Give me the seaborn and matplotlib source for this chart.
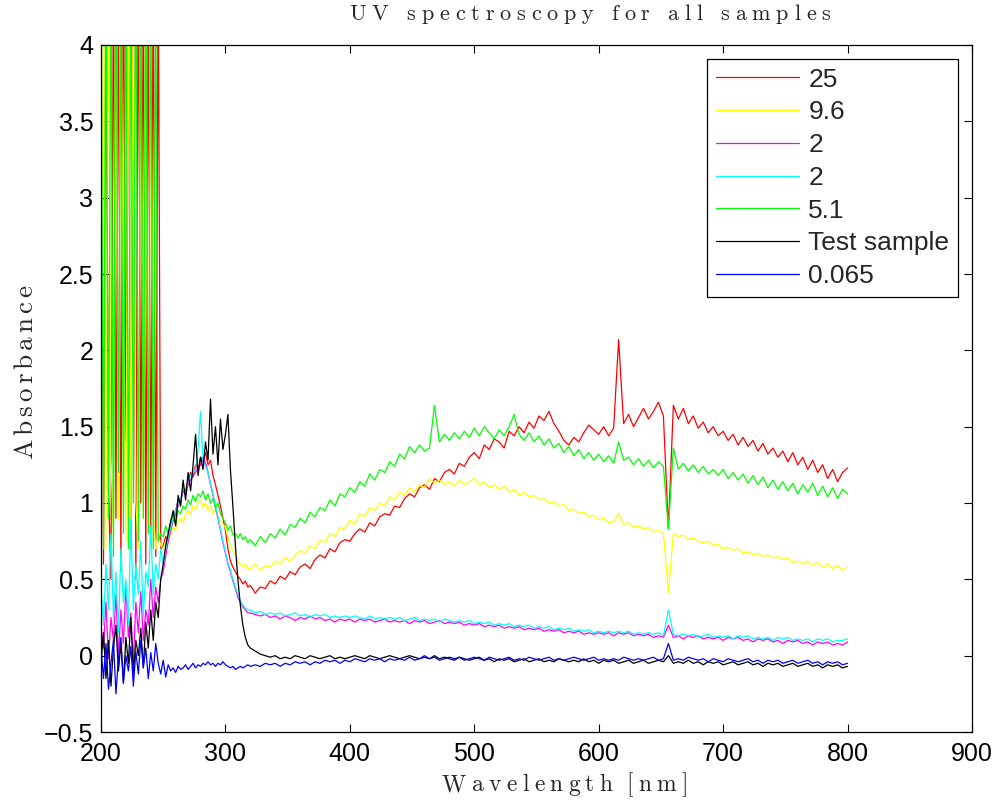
import matplotlib
matplotlib.use("Agg")
import matplotlib.pyplot as plt
import pandas as pd
import seaborn as sns
from matplotlib.ticker import FuncFormatter, MultipleLocator

# ---------------- data ----------------
wl_uv = list(range(200, 320, 2))    # 200..318 nm (60 points)
wl_vis = list(range(320, 801, 4))   # 320..800 nm (121 points)

labels = ["25", "9.6", "2", "2", "5.1", "Test sample", "0.065"]
colors = ["#ff0000", "#ffff00", "#ff00ff", "#00ffff", "#00ff00", "#000000", "#0000ff"]

red_uv = [4.5, 0.6, 4.7, 1.1, 0.5, 4.6, 0.9, 4.4, 0.55, 4.8,
          1.4, 4.5, 0.7, 4.6, 0.5, 4.7, 1.0, 4.5, 0.6, 4.4,
          0.8, 4.6, 0.65, 4.5, 0.7, 0.72, 0.78, 0.75, 0.86, 0.92,
          0.95, 1.02, 1.0, 1.1, 1.08, 1.15, 1.2, 1.17, 1.25, 1.22,
          1.3, 1.27, 1.33, 1.25, 1.28, 1.18, 1.12, 1.05, 0.98, 0.9,
          0.82, 0.7, 0.62, 0.58, 0.55, 0.52, 0.5, 0.47, 0.49, 0.45]
red_vis = [0.46, 0.41, 0.45, 0.44, 0.49, 0.47, 0.52, 0.5, 0.55, 0.53,
           0.58, 0.6, 0.57, 0.63, 0.66, 0.64, 0.7, 0.68, 0.74, 0.76,
           0.75, 0.8, 0.83, 0.81, 0.87, 0.85, 0.91, 0.93, 0.92, 0.98,
           0.97, 1.03, 1.06, 1.04, 1.1, 1.12, 1.09, 1.16, 1.14, 1.2,
           1.22, 1.19, 1.26, 1.24, 1.3, 1.33, 1.29, 1.38, 1.35, 1.42,
           1.4, 1.36, 1.47, 1.44, 1.5, 1.46, 1.53, 1.49, 1.57, 1.54,
           1.6, 1.52, 1.47, 1.41, 1.38, 1.43, 1.4, 1.46, 1.51, 1.48,
           1.45, 1.5, 1.44, 1.49, 2.07, 1.52, 1.58, 1.5, 1.56, 1.62,
           1.55, 1.6, 1.66, 1.57, 0.83, 1.64, 1.55, 1.62, 1.52, 1.57,
           1.49, 1.53, 1.46, 1.5, 1.44, 1.47, 1.41, 1.45, 1.38, 1.43,
           1.37, 1.41, 1.34, 1.39, 1.32, 1.36, 1.3, 1.34, 1.27, 1.33,
           1.25, 1.3, 1.22, 1.28, 1.2, 1.25, 1.16, 1.22, 1.14, 1.2,
           1.23]

yellow_uv = [0.9, 4.5, 0.7, 4.6, 1.3, 0.8, 4.7, 0.9, 4.5, 2.1,
             0.75, 4.6, 0.85, 4.4, 1.0, 0.7, 4.5, 0.9, 4.6, 0.8,
             4.4, 0.95, 0.7, 0.8, 0.72, 0.7, 0.75, 0.73, 0.8, 0.84,
             0.82, 0.88, 0.9, 0.87, 0.93, 0.95, 0.92, 0.98, 0.96, 1.0,
             1.02, 0.97, 1.0, 0.95, 0.98, 0.93, 0.96, 0.9, 0.88, 0.86,
             0.84, 0.78, 0.72, 0.69, 0.66, 0.62, 0.6, 0.58, 0.6, 0.57]
yellow_vis = [0.57, 0.6, 0.56, 0.59, 0.58, 0.62, 0.6, 0.64, 0.62, 0.66,
              0.69, 0.67, 0.72, 0.7, 0.76, 0.74, 0.8, 0.78, 0.84, 0.83,
              0.89, 0.86, 0.93, 0.91, 0.97, 0.95, 1.0, 0.98, 1.04, 1.02,
              1.07, 1.05, 1.1, 1.07, 1.12, 1.1, 1.16, 1.13, 1.15, 1.12,
              1.14, 1.11, 1.15, 1.12, 1.14, 1.16, 1.12, 1.14, 1.1, 1.12,
              1.09, 1.11, 1.07, 1.09, 1.05, 1.07, 1.04, 1.05, 1.02, 1.03,
              1.0, 1.01, 0.98, 0.99, 0.95, 0.96, 0.93, 0.94, 0.91, 0.92,
              0.89, 0.9, 0.87, 0.88, 0.93, 0.86, 0.87, 0.84, 0.85, 0.83,
              0.84, 0.81, 0.82, 0.8, 0.41, 0.8, 0.78, 0.79, 0.76, 0.77,
              0.75, 0.74, 0.75, 0.72, 0.73, 0.7, 0.71, 0.69, 0.7, 0.67,
              0.68, 0.66, 0.67, 0.65, 0.66, 0.64, 0.65, 0.63, 0.64, 0.61,
              0.62, 0.6, 0.62, 0.59, 0.61, 0.58, 0.6, 0.57, 0.59, 0.56,
              0.58]

magenta_uv = [0.2, 0.05, 0.35, -0.02, 0.25, 0.1, 0.4, 0.0, 0.3, 0.08,
              0.45, 0.12, 0.28, -0.05, 0.35, 0.15, 0.42, 0.1, 0.3, 0.2,
              0.5, 0.25, 0.45, 0.35, 0.5, 0.55, 0.65, 0.75, 0.82, 0.88,
              0.93, 0.98, 1.02, 1.08, 1.05, 1.12, 1.15, 1.18, 1.2, 1.23,
              1.25, 1.3, 1.26, 1.2, 1.12, 1.05, 0.97, 0.9, 0.82, 0.74,
              0.67, 0.6, 0.55, 0.49, 0.44, 0.38, 0.35, 0.32, 0.3, 0.28]
magenta_vis = [0.28, 0.27, 0.26, 0.27, 0.25, 0.26, 0.24, 0.26, 0.25, 0.23,
               0.25, 0.24, 0.26, 0.24, 0.25, 0.23, 0.24, 0.22, 0.24, 0.23,
               0.24, 0.22, 0.24, 0.23, 0.24, 0.22, 0.23, 0.24, 0.22, 0.23,
               0.22, 0.23, 0.21, 0.23, 0.22, 0.23, 0.21, 0.22, 0.23, 0.21,
               0.22, 0.21, 0.22, 0.2, 0.21, 0.2, 0.21, 0.19, 0.2, 0.19,
               0.2, 0.18, 0.19, 0.18, 0.19, 0.17, 0.18, 0.17, 0.18, 0.16,
               0.17, 0.16, 0.17, 0.15, 0.16, 0.15, 0.16, 0.14, 0.15, 0.14,
               0.15, 0.14, 0.15, 0.13, 0.15, 0.14, 0.15, 0.13, 0.14, 0.13,
               0.14, 0.12, 0.13, 0.12, 0.2, 0.12, 0.13, 0.11, 0.13, 0.12,
               0.13, 0.11, 0.12, 0.11, 0.12, 0.1, 0.12, 0.11, 0.12, 0.1,
               0.11, 0.09, 0.11, 0.1, 0.11, 0.09, 0.1, 0.08, 0.1, 0.09,
               0.1, 0.08, 0.09, 0.07, 0.09, 0.08, 0.09, 0.07, 0.08, 0.07,
               0.09]

cyan_uv = [0.45, 0.2, 0.6, 0.3, 0.8, 0.25, 0.55, 0.15, 0.7, 0.35,
           0.5, 0.2, 0.9, 0.3, 0.6, 0.4, 0.75, 0.25, 0.55, 0.45,
           0.85, 0.4, 0.6, 0.5, 0.7, 0.6, 0.7, 0.78, 0.84, 0.9,
           0.95, 1.0, 1.03, 1.1, 1.06, 1.14, 1.18, 1.2, 1.22, 1.35,
           1.6, 1.28, 1.24, 1.2, 1.13, 1.06, 0.98, 0.91, 0.83, 0.75,
           0.68, 0.61, 0.56, 0.5, 0.45, 0.4, 0.36, 0.33, 0.31, 0.3]
cyan_vis = [0.3, 0.28, 0.29, 0.27, 0.28, 0.27, 0.28, 0.26, 0.27, 0.28,
            0.26, 0.27, 0.25, 0.27, 0.26, 0.27, 0.25, 0.26, 0.25, 0.26,
            0.25, 0.26, 0.25, 0.24, 0.26, 0.24, 0.25, 0.24, 0.25, 0.24,
            0.25, 0.23, 0.24, 0.25, 0.23, 0.24, 0.23, 0.24, 0.22, 0.24,
            0.23, 0.22, 0.23, 0.22, 0.23, 0.21, 0.22, 0.21, 0.22, 0.2,
            0.21, 0.2, 0.21, 0.19, 0.2, 0.19, 0.2, 0.18, 0.19, 0.18,
            0.19, 0.17, 0.18, 0.17, 0.18, 0.16, 0.17, 0.16, 0.17, 0.15,
            0.16, 0.15, 0.16, 0.15, 0.16, 0.15, 0.16, 0.14, 0.15, 0.14,
            0.15, 0.14, 0.15, 0.13, 0.3, 0.14, 0.13, 0.14, 0.13, 0.14,
            0.12, 0.13, 0.14, 0.12, 0.13, 0.12, 0.13, 0.11, 0.13, 0.12,
            0.13, 0.11, 0.12, 0.11, 0.12, 0.1, 0.12, 0.11, 0.12, 0.1,
            0.11, 0.1, 0.11, 0.09, 0.11, 0.1, 0.11, 0.09, 0.1, 0.1,
            0.11]

green_uv = [4.6, 0.7, 4.8, 0.9, 4.5, 0.65, 4.9, 1.2, 4.4, 0.8,
            4.7, 0.7, 4.6, 1.0, 4.8, 0.75, 4.5, 0.9, 4.7, 0.8,
            4.6, 0.7, 4.5, 0.75, 0.8, 0.78, 0.85, 0.8, 0.88, 0.92,
            0.86, 0.95, 0.93, 0.98, 0.96, 1.02, 0.99, 1.05, 1.01, 1.06,
            1.04, 1.08, 1.02, 1.06, 1.0, 1.03, 0.97, 1.0, 0.93, 0.9,
            0.87, 0.82, 0.85, 0.79, 0.8, 0.77, 0.8, 0.76, 0.78, 0.74]
green_vis = [0.76, 0.72, 0.78, 0.74, 0.8, 0.77, 0.83, 0.79, 0.86, 0.84,
             0.9, 0.87, 0.94, 0.91, 0.97, 0.95, 1.02, 0.98, 1.06, 1.04,
             1.1, 1.07, 1.14, 1.11, 1.19, 1.15, 1.22, 1.2, 1.27, 1.24,
             1.32, 1.29, 1.37, 1.33, 1.38, 1.34, 1.36, 1.64, 1.4, 1.45,
             1.41, 1.46, 1.42, 1.47, 1.43, 1.49, 1.44, 1.5, 1.46, 1.42,
             1.48, 1.44, 1.5, 1.58, 1.45, 1.41, 1.46, 1.4, 1.44, 1.38,
             1.42, 1.36, 1.39, 1.33, 1.37, 1.31, 1.35, 1.29, 1.33, 1.28,
             1.32, 1.27, 1.31, 1.26, 1.4, 1.28, 1.3, 1.25, 1.29, 1.24,
             1.28, 1.23, 1.27, 1.24, 0.83, 1.36, 1.22, 1.26, 1.21, 1.25,
             1.2, 1.24, 1.19, 1.22, 1.18, 1.22, 1.16, 1.2, 1.15, 1.19,
             1.13, 1.18, 1.12, 1.17, 1.1, 1.15, 1.09, 1.14, 1.08, 1.13,
             1.06, 1.12, 1.07, 1.13, 1.05, 1.11, 1.04, 1.1, 1.03, 1.09,
             1.06]

black_uv = [-0.05, 0.15, -0.15, 0.1, -0.2, 0.05, 0.2, -0.1, 0.08, -0.18,
            0.12, -0.05, 0.25, -0.12, 0.1, 0.0, 0.18, -0.08, 0.22, 0.05,
            0.3, 0.1, 0.35, 0.25, 0.5, 0.6, 0.72, 0.8, 0.88, 0.95,
            0.85, 1.05, 0.98, 1.15, 1.02, 1.2, 1.08, 1.25, 1.45, 1.18,
            1.3, 1.22, 1.4, 1.28, 1.68, 1.32, 1.5, 1.25, 1.55, 1.35,
            1.45, 1.58, 1.22, 0.98, 0.72, 0.5, 0.33, 0.2, 0.12, 0.07]
black_vis = [0.05, 0.03, 0.01, 0.0, -0.01, 0.0, -0.02, -0.01, -0.02, 0.0,
             -0.01, -0.02, 0.0, -0.01, -0.02, -0.01, 0.0, -0.02, -0.01, -0.02,
             -0.01, 0.0, -0.01, -0.02, 0.0, -0.01, -0.02, -0.01, 0.0, -0.01,
             -0.02, -0.01, 0.0, -0.01, -0.02, -0.01, -0.02, 0.0, -0.02, -0.01,
             -0.02, -0.03, -0.01, -0.02, -0.03, -0.02, -0.01, -0.03, -0.02, -0.04,
             -0.02, -0.03, -0.02, -0.04, -0.03, -0.02, -0.04, -0.03, -0.02, -0.04,
             -0.03, -0.04, -0.02, -0.03, -0.04, -0.03, -0.04, -0.02, -0.04, -0.03,
             -0.05, -0.03, -0.04, -0.03, -0.05, -0.04, -0.03, -0.05, -0.04, -0.03,
             -0.05, -0.04, -0.03, -0.04, 0.0, -0.05, -0.04, -0.05, -0.03, -0.05,
             -0.04, -0.06, -0.04, -0.05, -0.04, -0.06, -0.05, -0.04, -0.06, -0.05,
             -0.04, -0.06, -0.05, -0.07, -0.05, -0.06, -0.05, -0.07, -0.06, -0.05,
             -0.07, -0.06, -0.05, -0.07, -0.06, -0.08, -0.06, -0.07, -0.06, -0.08,
             -0.07]

blue_uv = [0.05, -0.15, 0.08, -0.22, -0.05, 0.1, -0.25, -0.02, 0.12, -0.18,
           0.0, -0.1, 0.06, -0.2, 0.03, -0.12, 0.1, -0.08, 0.05, -0.15,
           0.02, -0.1, 0.08, -0.05, -0.12, -0.03, -0.14, -0.06, -0.1, -0.08,
           -0.11, -0.07, -0.09, -0.08, -0.06, -0.09, -0.07, -0.05, -0.08, -0.06,
           -0.07, -0.05, -0.06, -0.04, -0.06, -0.05, -0.07, -0.05, -0.06, -0.04,
           -0.06, -0.07, -0.08, -0.07, -0.09, -0.08, -0.07, -0.08, -0.07, -0.06]
blue_vis = [-0.07, -0.06, -0.07, -0.05, -0.06, -0.05, -0.07, -0.05, -0.06, -0.04,
            -0.05, -0.04, -0.06, -0.04, -0.05, -0.03, -0.04, -0.03, -0.05, -0.03,
            -0.04, -0.02, -0.03, -0.04, -0.02, -0.03, -0.02, -0.04, -0.02, -0.03,
            -0.02, -0.03, -0.01, -0.03, -0.02, 0.0, -0.02, -0.01, -0.03, -0.02,
            -0.01, -0.02, -0.01, -0.03, -0.02, -0.01, -0.02, -0.03, -0.01, -0.02,
            -0.03, -0.02, -0.01, -0.03, -0.02, -0.03, -0.01, -0.02, -0.03, -0.02,
            -0.01, -0.03, -0.02, -0.03, -0.02, -0.01, -0.02, -0.03, -0.02, -0.01,
            -0.03, -0.02, -0.03, -0.02, -0.03, -0.01, -0.02, -0.03, -0.02, -0.03,
            -0.02, -0.01, -0.03, -0.02, 0.08, -0.03, -0.02, -0.03, -0.01, -0.02,
            -0.03, -0.02, -0.04, -0.02, -0.03, -0.04, -0.02, -0.03, -0.04, -0.03,
            -0.02, -0.04, -0.03, -0.05, -0.03, -0.04, -0.03, -0.05, -0.04, -0.03,
            -0.05, -0.04, -0.03, -0.05, -0.04, -0.06, -0.04, -0.05, -0.04, -0.06,
            -0.05]

series_uv = [red_uv, yellow_uv, magenta_uv, cyan_uv, green_uv, black_uv, blue_uv]
series_vis = [red_vis, yellow_vis, magenta_vis, cyan_vis, green_vis, black_vis, blue_vis]

x_ticks = [200, 300, 400, 500, 600, 700, 800, 900]

title_text = "UV spectroscopy for all samples"
xlabel_text = "Wavelength [nm]"
ylabel_text = "Absorbance"

# ---------------- plot ----------------
W, H = 996, 805
sns.set_style("ticks")
plt.rcParams["font.family"] = ["Liberation Sans", "DejaVu Sans"]

fig = plt.figure(figsize=(W / 100, H / 100), dpi=100)
ax = fig.add_axes([101 / W, 1 - 732 / H, 871 / W, 687 / H])

for lab, col, yu, yv in zip(labels, colors, series_uv, series_vis):
    df = pd.DataFrame({"wl": wl_uv + wl_vis, "absorb": yu + yv})
    sns.lineplot(data=df, x="wl", y="absorb", color=col, label=lab,
                 linewidth=0.9, sort=False, estimator=None, ax=ax)

ax.set_xlim(200, 900)
ax.set_ylim(-0.5, 4)
ax.set_xticks(x_ticks)
ax.yaxis.set_major_locator(MultipleLocator(0.5))
ax.yaxis.set_major_formatter(FuncFormatter(lambda v, _: ("%g" % v).replace("-", "\u2212")))
ax.tick_params(direction="in", top=True, right=True, length=6, width=0.8,
               labelsize=18, colors="black")
ax.tick_params(axis="x", pad=7)
ax.tick_params(axis="y", pad=5.5)
for s in ax.spines.values():
    s.set_visible(True)
    s.set_linewidth(0.9)
    s.set_color("black")
ax.set_xlabel("")
ax.set_ylabel("")

leg = ax.legend(loc="upper right", bbox_to_anchor=((958 - 101) / 871, (732 - 59) / 687),
                borderaxespad=0, fontsize=19, handlelength=3.15, handletextpad=0.34,
                labelspacing=0.33, borderpad=0.33, fancybox=False, framealpha=1,
                edgecolor="black")
leg.get_frame().set_linewidth(0.9)
for h in leg.get_lines():
    h.set_linewidth(0.9)

# letter-spaced serif labels (laid out glyph by glyph)
serif = ["cmr10", "DejaVu Serif"]
renderer = fig.canvas.get_renderer()


def spaced_text(text, center_px, base_px, size, gap, word_gap, vertical=False):
    """Horizontal: centre x (from left) and baseline y (from top).
    Vertical: centre y (from top) and baseline x (from left)."""
    items = []
    for ch in text:
        if ch == " ":
            items.append(None)
            continue
        t = fig.text(0, 0, ch, fontsize=size, family=serif, ha="left", va="baseline",
                     rotation=90 if vertical else 0, rotation_mode="anchor")
        bb = t.get_window_extent(renderer)
        items.append((t, bb.height if vertical else bb.width))
    offs = []
    cur = 0.0
    for it in items:
        if it is None:
            cur += word_gap - gap
            continue
        offs.append((it[0], cur))
        cur += it[1] + gap
    total = cur - gap
    for t, o in offs:
        if vertical:
            y_from_bottom = (H - center_px) - total / 2 + o
            t.set_position((base_px / W, y_from_bottom / H))
        else:
            x = center_px - total / 2 + o
            t.set_position((x / W, 1 - base_px / H))


spaced_text(title_text, 590, 19.5, 16, 5.8, 18, vertical=False)
spaced_text(xlabel_text, 565, 791, 17, 5.3, 14, vertical=False)
spaced_text(ylabel_text, 372, 32, 19.5, 4.1, 14, vertical=True)

fig.savefig("out.png", dpi=100)
